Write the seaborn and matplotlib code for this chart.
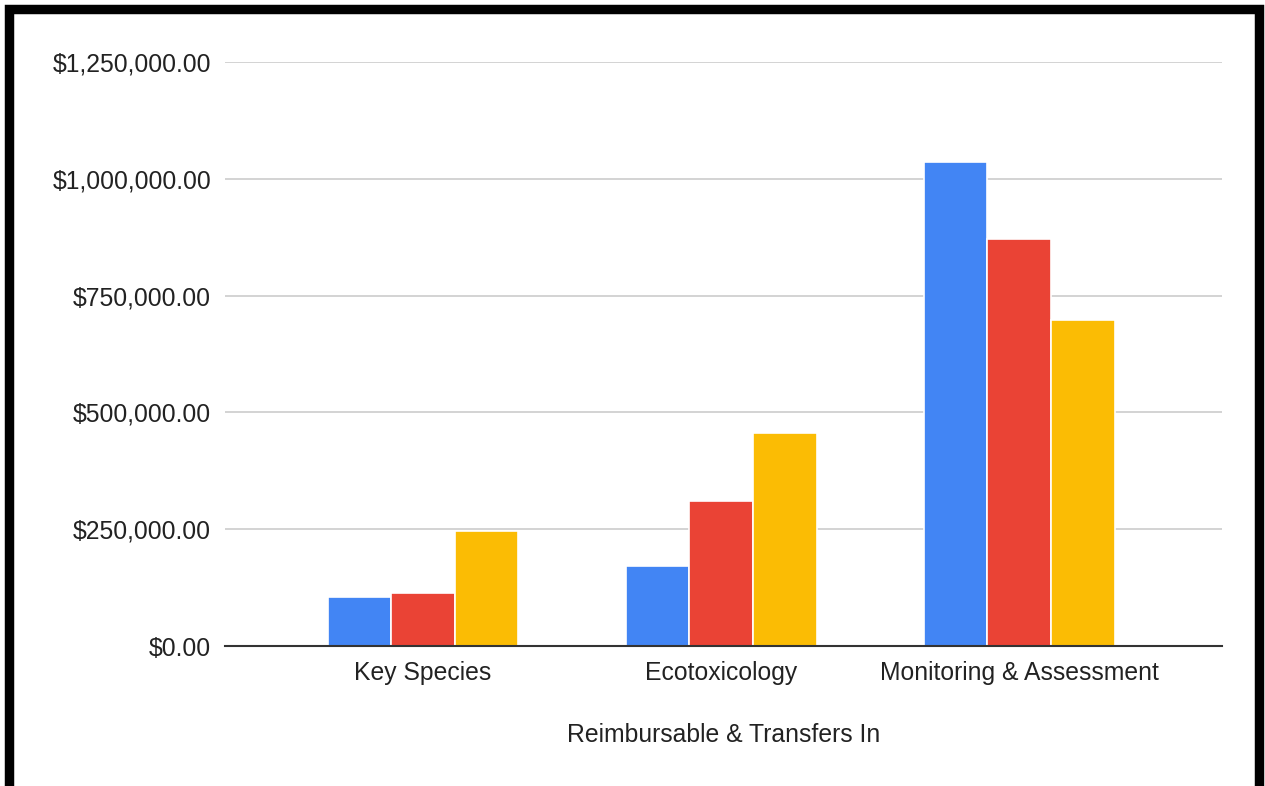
import pandas as pd
import seaborn as sns
import matplotlib.pyplot as plt
from matplotlib.patches import Rectangle
from matplotlib.ticker import FuncFormatter

# data
categories = ['Key Species', 'Ecotoxicology', 'Monitoring & Assessment']
series = ['Series 1', 'Series 2', 'Series 3']
values_s1 = [104000, 171000, 1036000]
values_s2 = [113000, 310000, 871000]
values_s3 = [246000, 456000, 697000]
colors = ['#4285F4', '#EA4335', '#FBBC04']

rows = []
for name, vals in zip(series, [values_s1, values_s2, values_s3]):
    for cat, v in zip(categories, vals):
        rows.append({'Category': cat, 'Series': name, 'Value': v})
df = pd.DataFrame(rows)

sns.set_theme(style='white')
plt.rcParams['font.family'] = ['Liberation Sans', 'DejaVu Sans']

W, H = 1265, 786
fig = plt.figure(figsize=(W / 100, H / 100), dpi=100)
ax = fig.add_axes([225 / W, 1 - 646 / H, (1222 - 225) / W, (646 - 62) / H])

sns.barplot(data=df, x='Category', y='Value', hue='Series', palette=colors,
            saturation=1, width=0.64, edgecolor='white', linewidth=1.2,
            legend=False, ax=ax)

ax.set_ylim(0, 1250000)
ax.set_xlim(-0.664, 2.68)
ax.set_yticks([0, 250000, 500000, 750000, 1000000, 1250000])
ax.yaxis.set_major_formatter(FuncFormatter(lambda v, p: '${:,.2f}'.format(v)))
ax.grid(axis='y', color='#cccccc', linewidth=1.2)
ax.set_axisbelow(True)
for s in ['top', 'right', 'left']:
    ax.spines[s].set_visible(False)
ax.spines['bottom'].set_color('#333333')
ax.spines['bottom'].set_linewidth(1.5)

fs = 17.8
ax.tick_params(axis='y', labelsize=fs, colors='#222222', length=0, pad=10)
ax.tick_params(axis='x', labelsize=fs, colors='#222222', length=0, pad=10.5)
ax.set_ylabel('')
ax.set_xlabel('Reimbursable & Transfers In', fontsize=fs, color='#222222', labelpad=28)

# black frame around the whole figure
fig.patches.append(Rectangle((8.5 / W, -1.5 / H), (1258.5 - 8.5) / W, (786 + 1.5 - 8.5) / H,
                             transform=fig.transFigure, fill=False,
                             edgecolor='black', linewidth=6.8, clip_on=False))

fig.savefig('out.png', dpi=100, facecolor='white')
